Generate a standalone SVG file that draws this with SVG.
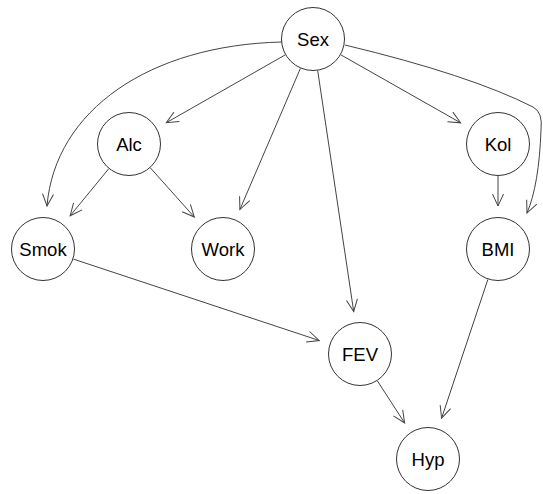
<svg xmlns="http://www.w3.org/2000/svg" width="543" height="494" viewBox="0 0 543 494">
  <style>
    .edge { fill: none; stroke: #444; stroke-width: 1; marker-end: url(#arrow); }
    .node circle { fill: #fff; stroke: #333; stroke-width: 1; }
    .node text { font-family: "Liberation Sans", Arial, sans-serif; font-size: 18.5px; fill: #000; text-anchor: middle; }
  </style>
  <defs>
    <marker id="arrow" viewBox="0 0 12 12" refX="12" refY="6" markerWidth="12" markerHeight="12" markerUnits="userSpaceOnUse" orient="auto" overflow="visible">
      <path d="M0,0.5 L12,6 L0,11.5" fill="none" stroke="#444" stroke-width="1"/>
    </marker>
  </defs>

  <g id="edges">
    <!-- curved edges -->
    <path class="edge" d="M282,42 C150,45 55,110 47,206"/>
    <path class="edge" d="M345,45 Q470,75 533,107 Q543,112 541,130 Q539,185 527,213"/>
    <!-- straight edges -->
    <path class="edge" d="M285.2,54.9 L166.3,122.7"/>
    <path class="edge" d="M300.4,68.4 L239.9,209.5"/>
    <path class="edge" d="M317.7,70.6 L353.7,311.5"/>
    <path class="edge" d="M340.8,54.8 L460.6,122.8"/>
    <path class="edge" d="M108.7,168.8 L70.2,215.7"/>
    <path class="edge" d="M150.3,167.8 L194.3,217"/>
    <path class="edge" d="M498,176 L498,206"/>
    <path class="edge" d="M73.4,259.1 L319.2,340.5"/>
    <path class="edge" d="M377.4,380.9 L404.6,422.9"/>
    <path class="edge" d="M487.9,279.4 L441.6,418.2"/>
  </g>

  <g id="node-sex" class="node"><circle cx="313" cy="39" r="31.5"/><text x="313" y="46">Sex</text></g>
  <g id="node-alc" class="node"><circle cx="129" cy="144" r="31.5"/><text x="129" y="151">Alc</text></g>
  <g id="node-smok" class="node"><circle cx="43" cy="249" r="31.5"/><text x="43" y="256">Smok</text></g>
  <g id="node-work" class="node"><circle cx="223" cy="249" r="31.5"/><text x="223" y="256">Work</text></g>
  <g id="node-kol" class="node"><circle cx="498" cy="144" r="31.5"/><text x="498" y="151">Kol</text></g>
  <g id="node-bmi" class="node"><circle cx="498" cy="249" r="31.5"/><text x="498" y="256">BMI</text></g>
  <g id="node-fev" class="node"><circle cx="360" cy="354" r="31.5"/><text x="360" y="361">FEV</text></g>
  <g id="node-hyp" class="node"><circle cx="428" cy="459" r="31.5"/><text x="428" y="466">Hyp</text></g>
</svg>
